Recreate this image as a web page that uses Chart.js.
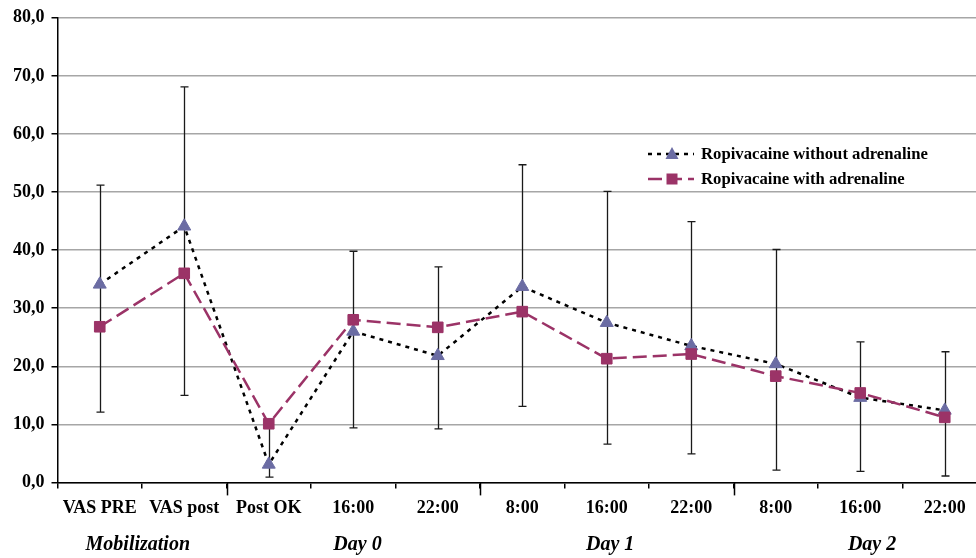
<!DOCTYPE html>
<html>
<head>
<meta charset="utf-8">
<script src="https://cdn.jsdelivr.net/npm/chart.js@4.4.1/dist/chart.umd.min.js"></script>
<style>
  html, body { margin: 0; padding: 0; background: #fff; overflow: hidden; }
  #wrap { width: 1000px; height: 558px; }
</style>
</head>
<body>
<div id="wrap"><canvas id="vas-chart"></canvas></div>
<script>
const categories = ["VAS PRE", "VAS post", "Post OK", "16:00", "22:00", "8:00", "16:00", "22:00", "8:00", "16:00", "22:00"];
const withoutAdrenaline = [34.1, 44.1, 3.1, 26.0, 21.8, 33.7, 27.5, 23.5, 20.4, 14.6, 12.4];
const withAdrenaline = [26.8, 36.0, 10.1, 28.0, 26.7, 29.4, 21.3, 22.1, 18.3, 15.4, 11.2];
const errorLow = [12.1, 15.0, 0.9, 9.4, 9.2, 13.1, 6.6, 4.9, 2.1, 1.9, 1.1];
const errorHigh = [51.2, 68.1, 10.1, 39.8, 37.1, 54.7, 50.1, 44.9, 40.1, 24.2, 22.5];
const groupLabels = ["Mobilization", "Day 0", "Day 1", "Day 2"];
const seriesNames = ["Ropivacaine without adrenaline", "Ropivacaine with adrenaline"];

const SERIF = '"Liberation Serif", "Times New Roman", serif';
const TRI_COLOR = "#6b6ca3";
const SQ_COLOR = "#9b3367";

// where the group captions sit (in category units) and the longer axis ticks
const groupCenters = [0.45, 3.05, 6.04, 9.14];
const groupBreaks = [1.5, 4.5, 7.5];

function drawMarker(ctx, style, x, y) {
  ctx.beginPath();
  if (style === "triangle") {
    ctx.fillStyle = TRI_COLOR;
    ctx.moveTo(x, y - 7);
    ctx.lineTo(x + 6.5, y + 5);
    ctx.lineTo(x - 6.5, y + 5);
    ctx.closePath();
  } else {
    ctx.fillStyle = SQ_COLOR;
    ctx.rect(x - 5.5, y - 5.5, 11, 11);
  }
  ctx.fill();
}

const errorBars = {
  id: "errorBars",
  beforeDatasetsDraw(chart) {
    const { ctx, scales: { x, y } } = chart;
    ctx.save();
    ctx.strokeStyle = "#1a1a1a";
    ctx.lineWidth = 1.3;
    errorHigh.forEach((hi, i) => {
      const px = Math.round(x.getPixelForValue(i)) + 0.5;
      const top = y.getPixelForValue(hi);
      const bot = y.getPixelForValue(errorLow[i]);
      ctx.beginPath();
      ctx.moveTo(px, top); ctx.lineTo(px, bot);
      ctx.moveTo(px - 4, top); ctx.lineTo(px + 4, top);
      ctx.moveTo(px - 4, bot); ctx.lineTo(px + 4, bot);
      ctx.stroke();
    });
    ctx.restore();
  }
};

const extras = {
  id: "extras",
  afterDraw(chart) {
    const { ctx, scales: { x, y } } = chart;
    ctx.save();

    // longer ticks on the category axis
    ctx.strokeStyle = "#000";
    ctx.lineWidth = 1.5;
    groupBreaks.forEach(b => {
      const px = Math.round(x.getPixelForValue(b)) + 0.5;
      ctx.beginPath();
      ctx.moveTo(px, y.bottom);
      ctx.lineTo(px, y.bottom + 13);
      ctx.stroke();
    });

    // group captions under the axis
    ctx.fillStyle = "#000";
    ctx.font = "italic bold 20px " + SERIF;
    ctx.textAlign = "center";
    ctx.textBaseline = "middle";
    groupLabels.forEach((g, i) => {
      ctx.fillText(g, x.getPixelForValue(groupCenters[i]), 545);
    });

    // legend
    const rows = [
      { name: seriesNames[0], dash: [4, 5], color: "#000", style: "triangle", y: 154 },
      { name: seriesNames[1], dash: [14, 6], color: SQ_COLOR, style: "rect", y: 179 }
    ];
    ctx.textAlign = "left";
    ctx.font = "bold 16.7px " + SERIF;
    rows.forEach(r => {
      ctx.strokeStyle = r.color;
      ctx.lineWidth = 2.5;
      ctx.setLineDash(r.dash);
      ctx.beginPath();
      ctx.moveTo(648, r.y);
      ctx.lineTo(694, r.y);
      ctx.stroke();
      ctx.setLineDash([]);
      drawMarker(ctx, r.style, 672, r.y);
      ctx.fillStyle = "#000";
      ctx.fillText(r.name, 701, r.y + 1);
    });

    ctx.restore();
  }
};

new Chart(document.getElementById("vas-chart"), {
  type: "line",
  data: {
    labels: categories,
    datasets: [
      {
        label: seriesNames[0],
        data: withoutAdrenaline,
        borderColor: "#000",
        borderWidth: 2.5,
        borderDash: [4, 5],
        pointStyle: "triangle",
        pointRadius: 7.5,
        pointBackgroundColor: TRI_COLOR,
        pointBorderColor: TRI_COLOR,
        pointBorderWidth: 1,
        order: 2
      },
      {
        label: seriesNames[1],
        data: withAdrenaline,
        borderColor: SQ_COLOR,
        borderWidth: 2.5,
        borderDash: [14, 6],
        pointStyle: "rect",
        pointRadius: 7.5,
        pointBackgroundColor: SQ_COLOR,
        pointBorderColor: SQ_COLOR,
        pointBorderWidth: 1,
        order: 1
      }
    ]
  },
  options: {
    responsive: true,
    maintainAspectRatio: false,
    animation: false,
    layout: { padding: { left: 6, right: 13, top: 4, bottom: 30 } },
    plugins: {
      legend: { display: false },
      tooltip: { enabled: false }
    },
    scales: {
      x: {
        offset: true,
        grid: {
          offset: true,
          drawOnChartArea: false,
          tickLength: 6,
          color: "#000",
          tickColor: "#000",
          lineWidth: 1.5
        },
        border: { color: "#000", width: 1.5 },
        ticks: {
          color: "#000",
          font: { family: SERIF, size: 18, weight: "bold" },
          padding: 9,
          maxRotation: 0,
          autoSkip: false
        }
      },
      y: {
        min: 0,
        max: 80,
        grid: {
          color: "#a6a6a6",
          lineWidth: 1.5,
          tickLength: 6,
          tickColor: "#000"
        },
        border: { color: "#000", width: 1.5 },
        ticks: {
          stepSize: 10,
          color: "#000",
          padding: 7,
          font: { family: SERIF, size: 18, weight: "bold" },
          callback: v => v.toFixed(1).replace(".", ",")
        }
      }
    }
  },
  plugins: [errorBars, extras]
});
</script>
</body>
</html>
